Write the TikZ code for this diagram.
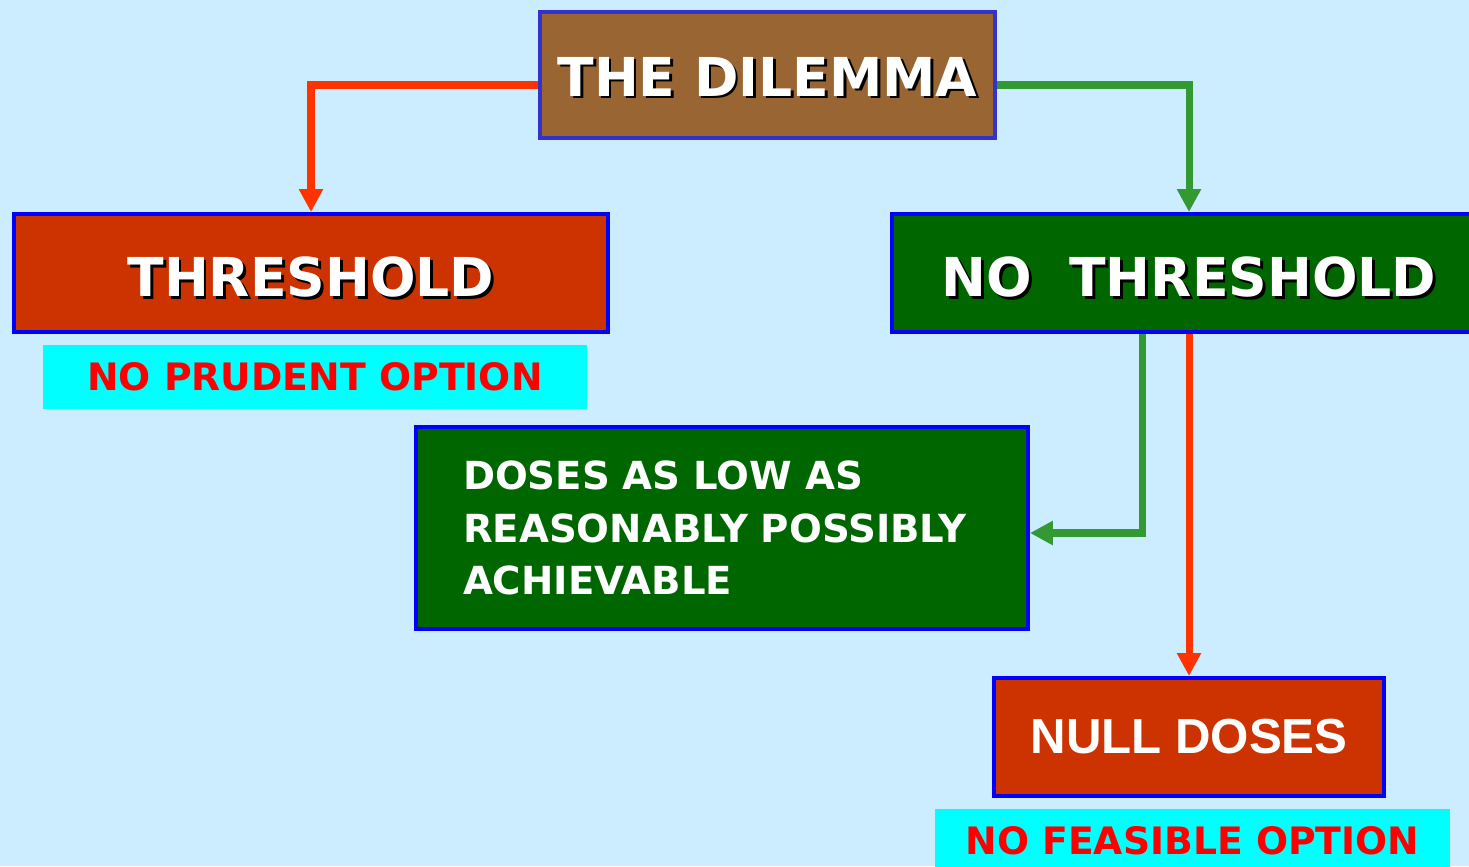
\documentclass[tikz,border=0pt]{standalone}
\usepackage{fontspec}
\setmainfont{DejaVu Sans}
\newfontfamily\arialfont{Liberation Sans}
\usetikzlibrary{arrows.meta}
\definecolor{skyback}{RGB}{204,236,255}
\definecolor{dilemmabrown}{RGB}{153,102,51}
\definecolor{dilemmaframe}{RGB}{51,51,204}
\definecolor{brickred}{RGB}{204,51,0}
\definecolor{darkgreen}{RGB}{0,102,0}
\definecolor{notecyan}{RGB}{0,255,255}
\definecolor{notered}{RGB}{255,0,0}
\definecolor{arrowred}{RGB}{255,51,0}
\definecolor{arrowgreen}{RGB}{51,153,51}
\newcommand{\dropshadow}[1]{\makebox[0pt][l]{\kern1.6pt\raisebox{-1.6pt}{\color{black}#1}}#1}

\begin{document}
\begin{tikzpicture}[x=0.02cm, y=-0.02cm,
  box/.style={draw=blue, line width=2.3pt, text=white, align=center, font=\bfseries\fontsize{30.5}{36}\selectfont},
  note/.style={fill=notecyan, text=notered, minimum width=10.88cm, minimum height=1.28cm, font=\bfseries\fontsize{21.5}{26}\selectfont},
  redarrow/.style={-{Triangle[width=0.46cm,length=0.46cm]}, line width=4pt, arrowred},
  greenarrow/.style={-{Triangle[width=0.46cm,length=0.46cm]}, line width=4pt, arrowgreen}
]
  \clip (0,0) rectangle (1469,866);
  \fill[skyback] (0,0) rectangle (1469,866);

  % Top
  \node[box, draw=dilemmaframe, fill=dilemmabrown, minimum width=9.1cm, minimum height=2.52cm, text height=0.9cm] (dilemma) at (767.5,75) {\dropshadow{THE DILEMMA}};

  % Two branches
  \node[box, fill=brickred, minimum width=11.88cm, minimum height=2.36cm, text height=1.02cm] (threshold) at (311,273) {\dropshadow{THRESHOLD}};
  \node[box, fill=darkgreen, minimum width=11.88cm, minimum height=2.36cm, text height=1.0cm] (nothreshold) at (1189,273) {\dropshadow{NO\ \ THRESHOLD}};
  \node[note] (prudent) at (315,377) {NO PRUDENT OPTION};

  % Below no threshold
  \node[box, fill=darkgreen, align=left, text width=10.36cm, inner xsep=0.94cm, minimum height=4.04cm, font=\bfseries\fontsize{22}{30}\selectfont] (doses) at (722,528) {DOSES AS LOW AS\\REASONABLY POSSIBLY\\ACHIEVABLE};
  \node[box, fill=brickred, minimum width=7.8cm, minimum height=2.36cm, font=\arialfont\bfseries\fontsize{28}{33}\selectfont] (nulldoses) at (1189,737) {NULL DOSES};
  \node[note, minimum width=10.3cm] (feasible) at (1192.5,841) {NO FEASIBLE OPTION};

  % Arrows
  \draw[redarrow] ([yshift=-0.2cm]dilemma.west) -| (threshold.north);
  \draw[greenarrow] ([yshift=-0.2cm]dilemma.east) -| (nothreshold.north);
  \draw[greenarrow] ([xshift=-0.94cm]nothreshold.south) |- ([yshift=-0.1cm]doses.east);
  \draw[redarrow] (nothreshold.south) -- (nulldoses.north);
\end{tikzpicture}
\end{document}
